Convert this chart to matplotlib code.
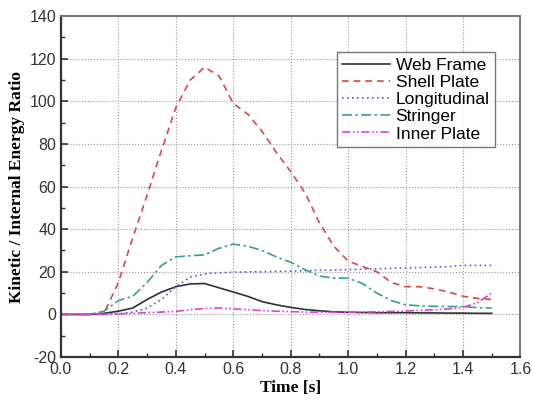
import matplotlib
matplotlib.use("Agg")
import matplotlib.pyplot as plt
from matplotlib.ticker import MultipleLocator

plt.rcParams["axes.unicode_minus"] = False

# time grid (s)
t = [0.0, 0.05, 0.1, 0.15, 0.2, 0.25, 0.3, 0.35, 0.4, 0.45, 0.5, 0.55, 0.6, 0.65, 0.7, 0.75,
     0.8, 0.85, 0.9, 0.95, 1.0, 1.05, 1.1, 1.15, 1.2, 1.25, 1.3, 1.35, 1.4, 1.45, 1.5]

web_frame = [0, 0, 0, 0.5, 1.5, 3, 7, 10.5, 13, 14.3, 14.5, 12.5, 10.5, 8.5, 6, 4.5,
             3.3, 2.3, 1.7, 1.2, 1.0, 0.9, 0.8, 0.8, 0.8, 0.7, 0.7, 0.6, 0.6, 0.5, 0.5]
shell_plate = [0, 0, 0, 0.5, 15, 36, 56, 77, 97, 110, 116, 112, 99, 94, 86, 76,
               67, 57, 43, 32, 25, 22.5, 20, 15, 13, 13, 12, 10.5, 8.5, 7.5, 7]
longitudinal = [0, 0, 0, 0, 0.3, 1, 3, 7, 13, 17.5, 19, 19.5, 19.8, 20, 20, 20.2,
                20.3, 20.5, 20.7, 20.8, 21, 21.2, 21.4, 21.6, 21.8, 22, 22.2, 22.4, 23, 23, 23]
stringer = [0, 0, 0, 1.5, 6.5, 8.5, 15, 23, 27, 27.5, 28, 31, 33, 32, 30, 27,
            24.5, 21, 18, 17, 17, 14.5, 10, 6.5, 4.5, 4, 3.8, 3.7, 3.7, 3.2, 3]
inner_plate = [0, 0, 0, 0, 0.2, 0.5, 0.8, 1.1, 1.4, 2.2, 2.8, 3, 2.6, 2.2, 1.8, 1.5,
               1.3, 1.1, 1.0, 1.0, 1.0, 1.1, 1.2, 1.4, 1.6, 1.9, 2.2, 2.6, 3.3, 5.5, 10]

fig = plt.figure(figsize=(5.33, 4.03), dpi=100)
ax = fig.add_axes([0.1144, 0.1141, 0.862, 0.846])

ax.plot(t, web_frame, color="#303030", lw=1.2, ls="-", label="Web Frame")
ax.plot(t, shell_plate, color="#d84848", lw=1.2, ls=(0, (4, 3)), label="Shell Plate")
ax.plot(t, longitudinal, color="#5a5acc", lw=1.2, ls=(0, (1, 2)), label="Longitudinal")
ax.plot(t, stringer, color="#3a9c9c", lw=1.2, ls=(0, (6, 2, 1.5, 2)), label="Stringer")
ax.plot(t, inner_plate, color="#e040e0", lw=1.2, ls=(0, (5, 1.5, 1, 1.5, 1, 1.5)), label="Inner Plate")

ax.set_xlim(0, 1.6)
ax.set_ylim(-20, 140)
ax.xaxis.set_major_locator(MultipleLocator(0.2))
ax.xaxis.set_minor_locator(MultipleLocator(0.1))
ax.yaxis.set_major_locator(MultipleLocator(20))
ax.yaxis.set_minor_locator(MultipleLocator(10))
ax.set_xticklabels([f"{v:.1f}" for v in ax.get_xticks()])
ax.tick_params(which="both", direction="in", top=False, right=False, colors="#333333",
               labelsize=11.5, labelcolor="#333333")
ax.tick_params(which="major", length=5, width=1.2)
ax.tick_params(which="minor", length=3, width=1.0)
for lab in ax.get_xticklabels() + ax.get_yticklabels():
    lab.set_family("Liberation Sans")

ax.grid(True, which="major", color="#999999", ls=":", lw=0.8)
for side in ["left", "bottom"]:
    ax.spines[side].set_linewidth(1.6)
    ax.spines[side].set_color("#333333")
for side in ["top", "right"]:
    ax.spines[side].set_linewidth(1.4)
    ax.spines[side].set_color("#777777")

ax.set_xlabel("Time [s]", family="Liberation Serif", fontweight="bold", fontsize=12.5, labelpad=2)
ax.set_ylabel("Kinetic / Internal Energy Ratio", family="Liberation Serif", fontweight="bold",
              fontsize=12.5, labelpad=3)

leg = ax.legend(loc="upper left", bbox_to_anchor=(0.6, 0.894), prop={"family": "Liberation Sans", "size": 12.5},
                frameon=True, fancybox=False, edgecolor="#555555", handlelength=2.8,
                handletextpad=0.3, labelspacing=0.12, borderpad=0.3, borderaxespad=0)
leg.get_frame().set_linewidth(1.0)

fig.savefig("out.png", dpi=100)
